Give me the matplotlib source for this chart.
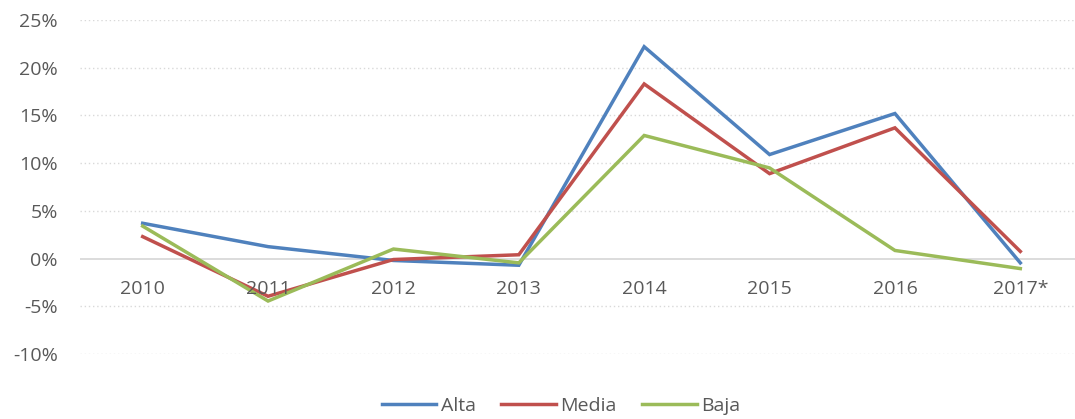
import matplotlib.pyplot as plt
from matplotlib.ticker import PercentFormatter

plt.rcParams['font.family'] = ['Open Sans', 'DejaVu Sans']
plt.rcParams['axes.unicode_minus'] = False

years = ['2010', '2011', '2012', '2013', '2014', '2015', '2016', '2017*']
alta = [3.7, 1.25, -0.2, -0.7, 22.2, 10.9, 15.2, -0.45]
media = [2.3, -3.95, -0.1, 0.4, 18.3, 8.9, 13.7, 0.75]
baja = [3.4, -4.45, 1.0, -0.45, 12.9, 9.5, 0.85, -1.05]

text_color = '#595959'
grid_color = '#D9D9D9'

fig = plt.figure(figsize=(10.75, 4.19), dpi=100)
ax = fig.add_axes([80 / 1075, 1 - 354 / 419, 1003 / 1075, 334 / 419])

x = range(len(years))
ax.plot(x, alta, color='#4F81BD', lw=2.5, label='Alta', solid_joinstyle='miter')
ax.plot(x, media, color='#C0504D', lw=2.5, label='Media', solid_joinstyle='miter')
ax.plot(x, baja, color='#9BBB59', lw=2.5, label='Baja', solid_joinstyle='miter')

ax.set_xlim(-0.5, len(years) - 0.5)
ax.set_ylim(-10, 25)
ax.set_yticks(range(-10, 30, 5))
ax.yaxis.set_major_formatter(PercentFormatter(decimals=0))
ax.tick_params(axis='y', length=0, pad=16, labelsize=14, labelcolor=text_color)
ax.set_xticks([])

for v in range(-10, 30, 5):
    if v == 0:
        ax.axhline(0, color=grid_color, lw=1.3, zorder=0)
    else:
        ax.axhline(v, color=grid_color, lw=1, ls=(0, (1, 2)), zorder=0)

for s in ax.spines.values():
    s.set_visible(False)

# category labels sit just under the zero line
for i, yr in enumerate(years):
    ax.annotate(yr, (i, 0), xytext=(0, -22), textcoords='offset points',
                ha='center', va='center', fontsize=14, color=text_color)

leg = fig.legend(loc='center', bbox_to_anchor=(561 / 1075, 1 - 406 / 419), ncol=3,
                 frameon=False, fontsize=14, handlelength=2.8, handletextpad=0.25,
                 columnspacing=1.3)
for t in leg.get_texts():
    t.set_color(text_color)

plt.savefig('out.png', dpi=100)
